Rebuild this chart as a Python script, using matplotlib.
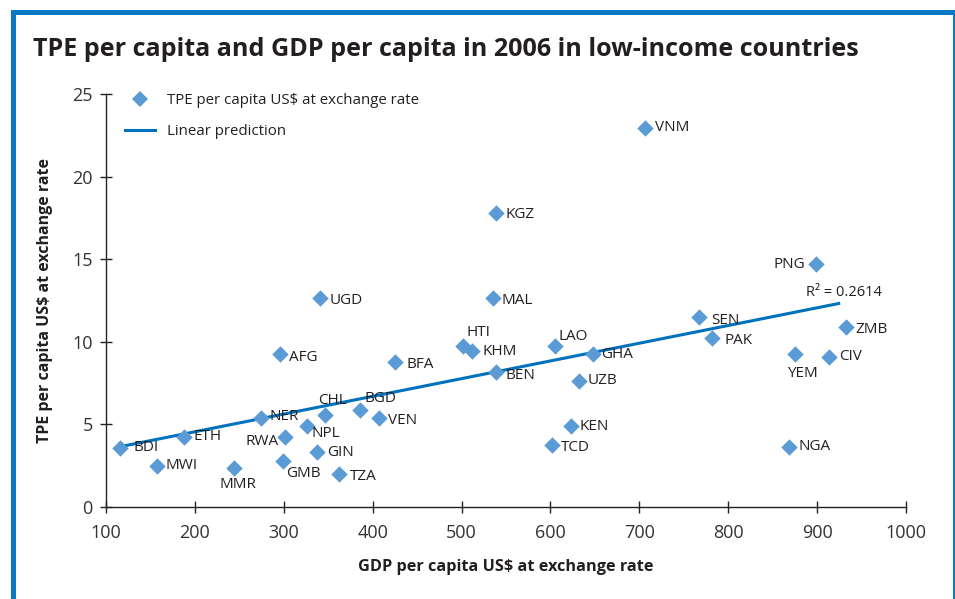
import numpy as np
import matplotlib
matplotlib.use("Agg")
import matplotlib.pyplot as plt
from matplotlib.lines import Line2D
from matplotlib.patches import Rectangle

# GDP and total public expenditure (TPE) per capita, US$ at exchange rate, 2006
countries = ["BDI", "MWI", "ETH", "MMR", "NER", "RWA", "GMB", "NPL", "GIN", "TZA",
             "CHL", "BGD", "VEN", "AFG", "UGD", "BFA", "HTI", "KHM", "BEN", "MAL",
             "KGZ", "VNM", "LAO", "GHA", "UZB", "KEN", "TCD", "SEN", "PAK", "PNG",
             "YEM", "CIV", "ZMB", "NGA"]
gdp_pc = [116, 157, 188, 244, 274, 301, 299, 326, 337, 362,
          346, 386, 407, 296, 341, 425, 502, 512, 539, 535,
          539, 706, 605, 648, 632, 623, 602, 767, 782, 899,
          875, 913, 932, 868]
tpe_pc = [3.6, 2.5, 4.25, 2.35, 5.4, 4.25, 2.8, 4.9, 3.3, 2.0,
          5.55, 5.9, 5.4, 9.25, 12.65, 8.75, 9.75, 9.45, 8.15, 12.65,
          17.8, 22.95, 9.75, 9.25, 7.65, 4.9, 3.75, 11.5, 10.2, 14.7,
          9.25, 9.1, 10.9, 3.65]

# linear prediction: TPE = intercept + slope * GDP over the plotted GDP span
fit_intercept = 2.41
fit_slope = 0.01072
fit_gdp_span = [116, 926]
r_squared_text = "R² = 0.2614"

x_ticks = list(range(100, 1001, 100))
y_ticks = [0, 5, 10, 15, 20, 25]

# label placement: offset in pixels from the marker, horizontal alignment
label_pos = {
    "BDI": (13, 0, "left"), "MWI": (9, 0, "left"), "ETH": (9, 0, "left"),
    "MMR": (4, -16, "center"), "NER": (9, 1, "left"), "RWA": (-6, -5, "right"),
    "GMB": (3, -13, "left"), "NPL": (5, -7, "left"), "GIN": (10, 0, "left"),
    "TZA": (11, -3, "left"), "CHL": (8, 15, "center"), "BGD": (4, 11, "left"),
    "VEN": (9, -3, "left"), "AFG": (9, -3, "left"), "UGD": (9, -2, "left"),
    "BFA": (12, -2, "left"), "HTI": (3, 13, "left"), "KHM": (10, -1, "left"),
    "BEN": (9, -3, "left"), "MAL": (9, -2, "left"), "KGZ": (9, -2, "left"),
    "VNM": (10, 0, "left"), "LAO": (4, 9, "left"), "GHA": (8, 0, "left"),
    "UZB": (9, 0, "left"), "KEN": (9, 0, "left"), "TCD": (9, -2, "left"),
    "SEN": (12, -3, "left"), "PAK": (12, -2, "left"), "PNG": (-11, 0, "right"),
    "YEM": (8, -19, "center"), "CIV": (10, 0, "left"), "ZMB": (10, -3, "left"),
    "NGA": (10, 0, "left"),
}

FONT = "Open Sans"
TEXT = "#231f20"
MARKER_BLUE = "#5b9bd5"
LINE_BLUE = "#0071bc"
FRAME_BLUE = "#0a78c2"

plt.rcParams["font.family"] = [FONT, "DejaVu Sans"]

W, H = 955, 599
fig = plt.figure(figsize=(W / 100, H / 100), dpi=100)
ax = fig.add_axes([106 / W, 1 - 507 / H, 800 / W, 413 / H])

x = np.array(gdp_pc, dtype=float)
y = np.array(tpe_pc, dtype=float)

xs = np.array(fit_gdp_span, dtype=float)
ax.plot(xs, fit_intercept + fit_slope * xs, color=LINE_BLUE, lw=2.2, zorder=2,
        solid_capstyle="butt")

ax.scatter(x, y, marker="D", s=70, color=MARKER_BLUE, linewidths=0, zorder=3)

for name, gx, ty in zip(countries, gdp_pc, tpe_pc):
    dx, dy, ha = label_pos[name]
    ax.annotate(name, (gx, ty), xytext=(dx * 0.72, dy * 0.72),
                textcoords="offset points", ha=ha, va="center",
                fontsize=11, color=TEXT, zorder=4)

ax.text(887, 13.0, r_squared_text, fontsize=10.5, color=TEXT, ha="left",
        va="center")

ax.set_xlim(100, 1000)
ax.set_ylim(0, 25)
ax.set_xticks(x_ticks)
ax.set_yticks(y_ticks)
ax.tick_params(direction="inout", length=9, width=1, labelsize=13,
               labelcolor="#333333", color="#222222")
ax.tick_params(axis="x", pad=8)
ax.tick_params(axis="y", pad=5)
for side in ("top", "right"):
    ax.spines[side].set_visible(False)
for side in ("left", "bottom"):
    ax.spines[side].set_color("#222222")
    ax.spines[side].set_linewidth(1)

ax.set_xlabel("GDP per capita US$ at exchange rate", fontsize=11.7,
              fontweight="bold", color=TEXT, labelpad=12)
ax.set_ylabel("TPE per capita US$ at exchange rate", fontsize=11.5,
              fontweight="bold", color=TEXT, labelpad=14)

handles = [
    Line2D([], [], marker="D", ls="none", color=MARKER_BLUE, markersize=8,
           markeredgewidth=0, label="TPE per capita US$ at exchange rate"),
    Line2D([], [], color=LINE_BLUE, lw=2.2, label="Linear prediction"),
]
ax.legend(handles=handles, loc="upper left", bbox_to_anchor=(125 / W, 1 - 93 / H),
          bbox_transform=fig.transFigure, frameon=False, fontsize=10.8,
          handlelength=2.0, handletextpad=0.8, labelspacing=1.05,
          labelcolor=TEXT, borderaxespad=0, borderpad=0)

fig.text(33 / W, 1 - 56 / H, "TPE per capita and GDP per capita in 2006 in low-income countries",
         fontsize=18.1, fontweight="bold", color=TEXT, ha="left", va="baseline")

# blue frame around the panel, open at the bottom edge of the image
fig.patches.append(Rectangle((12.5 / W, -0.05), (954.5 - 12.5) / W, 1 - 12 / H + 0.05,
                             transform=fig.transFigure, fill=False,
                             edgecolor=FRAME_BLUE, lw=3.6, zorder=10))

fig.savefig("out.png", dpi=100)
